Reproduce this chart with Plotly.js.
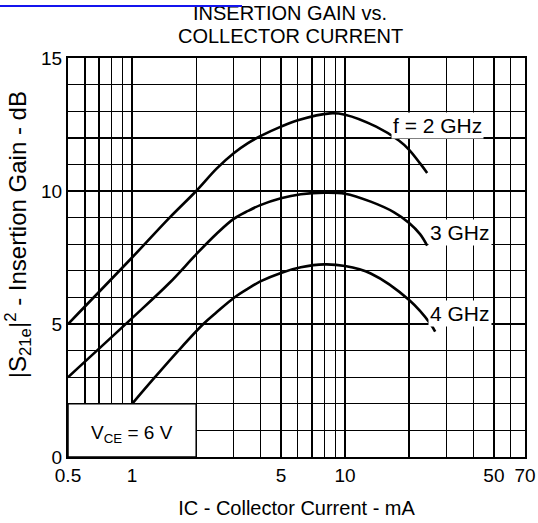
<!DOCTYPE html>
<html>
<head>
<meta charset="utf-8">
<script src="https://cdn.plot.ly/plotly-3.0.1.min.js"></script>
<style>
html,body{margin:0;padding:0;background:#fff;}
#wrap{position:relative;width:538px;height:523px;}
#chart{width:538px;height:523px;}
#bluebar{position:absolute;left:0;top:5px;width:242px;height:2px;background:#1414ee;z-index:10;}
</style>
</head>
<body>
<div id="wrap"><div id="chart"></div><div id="bluebar"></div></div>
<script>
// Collector current (mA) and insertion gain (dB)
const ic2GHz = [0.5, 1.0, 1.5, 2.0, 2.5, 3.0, 3.5, 4.0, 5.0, 6.0, 8.5, 10, 14, 17.9, 20, 22.7, 24.3];
const gain2GHz = [5.0, 7.5, 9.0, 10.0, 10.85, 11.42, 11.8, 12.06, 12.42, 12.66, 12.92, 12.87, 12.42, 11.9, 11.55, 11.0, 10.68];

const ic3GHz = [0.5, 1.0, 1.5, 2.0, 2.5, 3.0, 3.5, 4.0, 5.0, 6.2, 8.0, 10, 13.2, 17, 20, 22.5, 24.3];
const gain3GHz = [3.0, 5.22, 6.55, 7.62, 8.4, 8.95, 9.25, 9.47, 9.73, 9.88, 9.94, 9.9, 9.6, 9.2, 8.8, 8.38, 7.95];

const ic4GHz = [1.0, 1.28, 1.65, 2.16, 2.5, 3.0, 3.5, 4.0, 5.0, 6.2, 8.0, 10, 13.2, 20, 25.2, 26.5];
const gain4GHz = [2.0, 3.0, 4.0, 5.0, 5.45, 5.98, 6.33, 6.6, 6.92, 7.13, 7.24, 7.18, 6.9, 5.9, 5.0, 4.71];

const xTickVals = [0.5, 1, 5, 10, 50, 70];
const xTickText = ['0.5', '1', '5', '10', '50', '70'];
const xMinorVals = [0.6, 0.7, 0.8, 0.9, 2, 3, 4, 6, 7, 8, 9, 20, 30, 40, 60];
const yTickVals = [0, 5, 10, 15];
const yTickText = ['0', '5', '10', '15'];

const curveLabels = ['f = 2 GHz', '3 GHz', '4 GHz'];
const labelX = [16.4, 24.6, 24.6];
const labelY = [12.48, 8.45, 5.38];

const titleLines = ['INSERTION GAIN vs.', 'COLLECTOR CURRENT'];

const FONT = 'Liberation Sans, Arial, Helvetica, sans-serif';
const lineStyle = {color: '#000', width: 2.6, shape: 'spline', smoothing: 1};

const traces = [
  {x: ic2GHz, y: gain2GHz, mode: 'lines', line: lineStyle, hoverinfo: 'skip'},
  {x: ic3GHz, y: gain3GHz, mode: 'lines', line: lineStyle, hoverinfo: 'skip'},
  {x: ic4GHz, y: gain4GHz, mode: 'lines', line: lineStyle, hoverinfo: 'skip'}
];

const annotations = curveLabels.map((t, i) => ({
  x: Math.log10(labelX[i]), y: labelY[i], xref: 'x', yref: 'y',
  text: t, showarrow: false, xanchor: 'left', yanchor: 'middle',
  bgcolor: '#fff', borderpad: 1,
  font: {family: FONT, size: 21, color: '#000'}
}));

annotations.push({
  x: 0, y: 0.85, xref: 'x', yref: 'y',
  text: 'V<sub>CE</sub> = 6 V', showarrow: false,
  xanchor: 'center', yanchor: 'middle',
  font: {family: FONT, size: 19, color: '#000'}
});

annotations.push({
  xref: 'paper', yref: 'paper', x: -0.109, y: 0.556,
  text: '|S<sub>21e</sub>|<sup>2</sup> - Insertion Gain - dB',
  textangle: -90, showarrow: false, xanchor: 'center', yanchor: 'middle',
  font: {family: FONT, size: 24, color: '#000'}
});

// title lines (centres at 13 px and 36 px from the top of the page)
[13, 36].forEach((py, i) => {
  annotations.push({
    xref: 'paper', yref: 'paper', x: 0.486, y: (457 - py) / 399,
    text: titleLines[i], showarrow: false, xanchor: 'center', yanchor: 'middle',
    font: {family: FONT, size: 20, color: '#000'}
  });
});

const layout = {
  width: 538, height: 523,
  margin: {l: 68, r: 13, t: 58, b: 66},
  paper_bgcolor: '#fff', plot_bgcolor: '#fff',
  showlegend: false,
  font: {family: FONT, size: 19, color: '#000'},
  xaxis: {
    type: 'log', range: [Math.log10(0.5), Math.log10(70)],
    tickmode: 'array', tickvals: xTickVals, ticktext: xTickText, ticks: '',
    showgrid: true, gridcolor: '#000', gridwidth: 1.4,
    minor: {tickmode: 'array', tickvals: xMinorVals, showgrid: true, gridcolor: '#000', gridwidth: 1.4, ticks: ''},
    showline: true, mirror: true, linecolor: '#000', linewidth: 2,
    zeroline: false, tickfont: {family: FONT, size: 19},
    title: {text: 'IC - Collector Current - mA', font: {family: FONT, size: 20}, standoff: 16}
  },
  yaxis: {
    range: [0, 15], tickmode: 'array', tickvals: yTickVals, ticktext: yTickText, ticks: '',
    showgrid: true, gridcolor: '#000', gridwidth: 1.4,
    minor: {dtick: 1, showgrid: true, gridcolor: '#000', gridwidth: 1.4, ticks: ''},
    showline: true, mirror: true, linecolor: '#000', linewidth: 2,
    zeroline: false, tickfont: {family: FONT, size: 19}
  },
  shapes: [
    {type: 'rect', xref: 'x', yref: 'y', x0: 0.5, x1: 2, y0: 0, y1: 2,
     fillcolor: '#fff', line: {color: '#000', width: 1.5}, layer: 'above'}
  ],
  annotations: annotations
};

Plotly.newPlot('chart', traces, layout, {displayModeBar: false, staticPlot: true});
</script>
</body>
</html>
